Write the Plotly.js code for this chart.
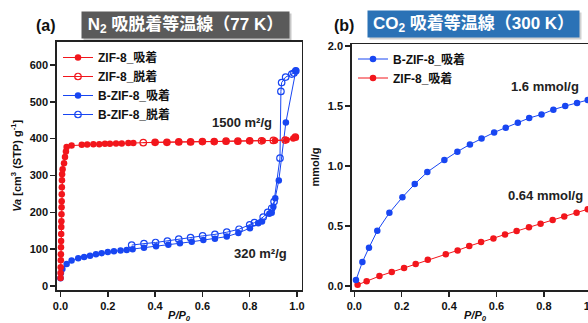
<!DOCTYPE html>
<html><head><meta charset="utf-8">
<script src="https://cdn.plot.ly/plotly-3.0.1.min.js"></script>
<style>html,body{margin:0;padding:0;overflow:hidden;background:#fff}#chart{width:610px;height:323px}</style>
</head><body><div id="chart"></div><script>
// ---- N2 isotherm (77 K) ----
const zif8AdsN2P = [0.0003,0.0006,0.001,0.0014,0.0018,0.0022,0.0026,0.003,0.0034,0.0038,0.0042,0.0046,0.005,0.0054,0.0058,0.0062,0.0068,0.009,0.015,0.019,0.023,0.026,0.047,0.09,0.113,0.139,0.164,0.188,0.209,0.235,0.259,0.287,0.308,0.4,0.45,0.5,0.55,0.6,0.65,0.7,0.75,0.8,0.855,0.907,0.956,0.984,0.993];
const zif8AdsN2V = [22,35,51,70,86,105,122,141,160,176,195,214,230,249,268,287,303,317,333,350,365,377,381,383,384,385,385,386,386,387,387,388,388,390,390,391,391,392,392,393,393,394,394,395,396,400,404];
const zif8DesN2P = [0.993,0.95,0.9,0.85,0.8,0.75,0.7,0.65,0.6,0.55,0.5,0.45,0.4,0.35];
const zif8DesN2V = [404,396,395,394,394,393,393,392,392,391,391,390,390,389];
const bzifAdsN2P = [0,0.002,0.008,0.026,0.047,0.075,0.1,0.125,0.15,0.174,0.2,0.226,0.254,0.28,0.305,0.353,0.404,0.456,0.505,0.555,0.604,0.653,0.703,0.752,0.801,0.836,0.852,0.883,0.893,0.9,0.908,0.923,0.953,0.995];
const bzifAdsN2V = [21,35,46,60,69,75,79,82,86,89,92,94,96,98,100,104,108,112,116,120,125,128,134,144,157,170,175,196,199,215,238,286,444,584];
const bzifDesN2P = [0.995,0.987,0.978,0.952,0.935,0.932,0.928,0.903,0.893,0.876,0.857,0.82,0.8,0.755,0.703,0.653,0.601,0.55,0.5,0.452,0.402,0.353,0.301];
const bzifDesN2V = [584,578,575,567,552,528,347,229,211,200,187,172,166,154,146,140,136,131,127,122,118,115,111];
// ---- CO2 isotherm (300 K) ----
const bzifCO2P = [0.007,0.034,0.062,0.097,0.148,0.203,0.255,0.308,0.38,0.435,0.488,0.537,0.59,0.639,0.69,0.738,0.79,0.84,0.89,0.94,0.985];
const bzifCO2V = [0.05,0.20,0.32,0.46,0.61,0.74,0.85,0.95,1.05,1.12,1.18,1.23,1.28,1.32,1.36,1.40,1.43,1.47,1.50,1.525,1.55];
const zif8CO2P = [0.014,0.052,0.106,0.158,0.21,0.259,0.31,0.386,0.436,0.485,0.535,0.587,0.636,0.685,0.737,0.786,0.837,0.886,0.938,0.985];
const zif8CO2V = [0.01,0.04,0.083,0.117,0.15,0.183,0.22,0.264,0.297,0.333,0.367,0.397,0.43,0.458,0.489,0.52,0.55,0.58,0.61,0.64];
const xTicks = [0,0.2,0.4,0.6,0.8,1.0];
const labelsN2 = ['ZIF-8_吸着','ZIF-8_脱着','B-ZIF-8_吸着','B-ZIF-8_脱着'];

const RED = '#f2161c', BLUE = '#1846f2';
const FONT = 'Liberation Sans, Arial, Noto Sans CJK JP, sans-serif';
const W = 610, H = 323;
const px = v => v / W, py = v => 1 - v / H;

function tr(x, y, name, color, open, xa, ya, legend, rank) {
  return {
    x: x, y: y, name: name, type: 'scatter', mode: 'lines+markers',
    xaxis: xa, yaxis: ya, legend: legend, legendrank: rank,
    line: {color: color, width: 1},
    marker: open ? {symbol: 'circle-open', size: 6.5, color: color, line: {width: 1.2, color: color}}
                 : {symbol: 'circle', size: 6.5, color: color}
  };
}
const data = [
  tr(bzifDesN2P, bzifDesN2V, labelsN2[3], BLUE, true, 'x', 'y', 'legend', 4),
  tr(bzifAdsN2P, bzifAdsN2V, labelsN2[2], BLUE, false, 'x', 'y', 'legend', 3),
  tr(zif8DesN2P, zif8DesN2V, labelsN2[1], RED, true, 'x', 'y', 'legend', 2),
  tr(zif8AdsN2P, zif8AdsN2V, labelsN2[0], RED, false, 'x', 'y', 'legend', 1),
  tr(zif8CO2P, zif8CO2V, 'ZIF-8_吸着', RED, false, 'x2', 'y2', 'legend2', 2),
  tr(bzifCO2P, bzifCO2V, 'B-ZIF-8_吸着', BLUE, false, 'x2', 'y2', 'legend2', 1)
];

const axBase = {
  showline: true, linewidth: 1.5, linecolor: '#222', mirror: true,
  ticks: 'outside', ticklen: 5, tickwidth: 1.5, tickcolor: '#222',
  showgrid: false, zeroline: false,
  tickfont: {family: FONT, size: 11, color: '#111', weight: 700}
};
const tfont = {family: FONT, size: 11, color: '#111', weight: 700};
function ann(o) { return Object.assign({xref: 'paper', yref: 'paper', xanchor: 'center', yanchor: 'middle', showarrow: false}, o); }

const layout = {
  width: W, height: H, margin: {l: 0, r: 0, t: 0, b: 0},
  paper_bgcolor: '#fff', plot_bgcolor: '#fff',
  font: {family: FONT},
  xaxis: Object.assign({}, axBase, {domain: [px(56.7), px(301.5)], range: [-0.016, 1.019], anchor: 'y',
    tickvals: xTicks, tickformat: '.1f', title: {text: '<i>P/P<sub>0</sub></i>', font: tfont, standoff: 7}}),
  yaxis: Object.assign({}, axBase, {domain: [py(290), py(41.7)], range: [-10.9, 663], anchor: 'x', dtick: 100,
    title: {text: '<i>Va</i> [cm<sup>3</sup> (STP) g<sup>-1</sup>]', font: tfont, standoff: 6}}),
  xaxis2: Object.assign({}, axBase, {domain: [px(351.7), px(598.4)], range: [-0.011, 1.03], anchor: 'y2',
    tickvals: xTicks, tickformat: '.1f', title: {text: '<i>P/P<sub>0</sub></i>', font: tfont, standoff: 7}}),
  yaxis2: Object.assign({}, axBase, {domain: [py(290), py(44)], range: [-0.033, 2.017], anchor: 'x2', dtick: 0.5,
    tickformat: '.1f', title: {text: 'mmol/g', font: tfont, standoff: 6}}),
  legend: {x: px(58), y: py(43), xanchor: 'left', yanchor: 'top', bgcolor: 'rgba(0,0,0,0)',
    font: {family: FONT, size: 12, color: '#111', weight: 700}, itemwidth: 30, tracegroupgap: 0},
  legend2: {x: px(353), y: py(44.5), xanchor: 'left', yanchor: 'top', bgcolor: 'rgba(0,0,0,0)',
    font: {family: FONT, size: 12, color: '#111', weight: 700}, itemwidth: 30, tracegroupgap: 0},
  showlegend: true,
  annotations: [
    ann({x: px(46), y: py(25), text: '(a)', font: {family: FONT, size: 16, color: '#111', weight: 700}}),
    ann({x: px(344), y: py(25), text: '(b)', font: {family: FONT, size: 16, color: '#111', weight: 700}}),
    ann({x: px(185), y: py(25), xshift: 2, yshift: -2, width: 205, height: 24, text: ' ', bgcolor: 'rgba(0,0,0,0.22)'}),
    ann({x: px(185), y: py(25), width: 205, height: 24, text: 'N<sub>2</sub> 吸脱着等温線（77 K）', bgcolor: '#5a5a5a',
      font: {family: FONT, size: 17, color: '#fff', weight: 700}}),
    ann({x: px(473), y: py(24.5), xshift: 2, yshift: -2, width: 209, height: 24, text: ' ', bgcolor: 'rgba(0,0,0,0.18)'}),
    ann({x: px(473), y: py(24.5), width: 209, height: 24, text: 'CO<sub>2</sub> 吸着等温線（300 K）', bgcolor: '#2b72b6',
      font: {family: FONT, size: 17, color: '#fff', weight: 700}}),
    ann({xref: 'x', yref: 'y', x: 0.767, y: 443, text: '1500 m²/g', font: {family: FONT, size: 13, color: '#222', weight: 700}}),
    ann({xref: 'x', yref: 'y', x: 0.844, y: 88, text: '320 m²/g', font: {family: FONT, size: 13, color: '#222', weight: 700}}),
    ann({xref: 'x2', yref: 'y2', x: 0.805, y: 1.662, text: '1.6 mmol/g', font: {family: FONT, size: 13, color: '#222', weight: 700}}),
    ann({xref: 'x2', yref: 'y2', x: 0.805, y: 0.758, text: '0.64 mmol/g', font: {family: FONT, size: 13, color: '#222', weight: 700}})
  ]
};
Plotly.newPlot('chart', data, layout, {staticPlot: true, displayModeBar: false});
</script></body></html>
